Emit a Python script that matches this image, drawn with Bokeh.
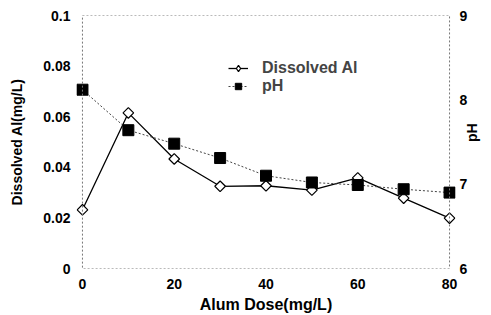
from bokeh.plotting import figure
from bokeh.models import (Range1d, LinearAxis, FixedTicker, NumeralTickFormatter,
                          BoxAnnotation, Legend, LegendItem)
from bokeh.embed import file_html
from bokeh.resources import INLINE
import numpy as np

# ---- data ----
dose = [0, 10, 20, 30, 40, 50, 60, 70, 80]
dissolved_al = [0.0232, 0.0615, 0.0433, 0.0325, 0.0327, 0.0310, 0.0358, 0.0278, 0.0199]
ph = [8.12, 7.64, 7.48, 7.31, 7.10, 7.02, 6.99, 6.94, 6.90]
x_ticks = [0, 20, 40, 60, 80]
al_ticks = [0, 0.02, 0.04, 0.06, 0.08, 0.1]
ph_ticks = [6, 7, 8, 9]

FONT = "Liberation Sans"
PAD = 1.3

p = figure(width=491, height=315, output_backend="svg", toolbar_location=None,
           x_range=Range1d(-PAD, 80 + PAD), y_range=Range1d(0, 0.1),
           min_border_left=76, min_border_right=35, min_border_top=15, min_border_bottom=46)
p.extra_y_ranges = {"ph": Range1d(6, 9)}
# off-screen range used only for the legend's diamond key
p.extra_x_ranges = {"key": Range1d(1000, 1001)}
p.grid.visible = False
p.outline_line_color = None
p.background_fill_color = "white"
p.border_fill_color = "white"

# dotted frame on the data extent
p.add_layout(BoxAnnotation(left=0, right=80, bottom=0, top=0.1, fill_alpha=0,
                           line_color="#777777", line_alpha=1.0, line_dash="2 2",
                           line_width=1))

def style_axis(ax, size="14px"):
    ax.axis_line_color = None
    ax.major_tick_line_color = None
    ax.minor_tick_line_color = None
    ax.major_tick_out = 0
    ax.major_tick_in = 0
    ax.minor_tick_out = 0
    ax.minor_tick_in = 0
    ax.major_label_text_font = FONT
    ax.major_label_text_font_style = "bold"
    ax.major_label_text_font_size = size
    ax.major_label_text_color = "black"
    ax.axis_label_text_font = FONT
    ax.axis_label_text_font_style = "bold"
    ax.axis_label_text_font_size = "14px"
    ax.axis_label_text_color = "black"

xa = p.xaxis[0]
xa.ticker = FixedTicker(ticks=x_ticks)
xa.axis_label = "Alum Dose(mg/L)"
style_axis(xa)
xa.axis_label_text_font_size = "16px"
xa.major_label_standoff = 10
xa.axis_label_standoff = 4

ya = p.yaxis[0]
ya.ticker = FixedTicker(ticks=al_ticks)
ya.formatter = NumeralTickFormatter(format="0.[00]")
ya.axis_label = "Dissolved Al(mg/L)"
style_axis(ya)
ya.major_label_standoff = 6
ya.axis_label_standoff = 15

ra = LinearAxis(y_range_name="ph", ticker=FixedTicker(ticks=ph_ticks), axis_label="pH")
style_axis(ra)
ra.major_label_standoff = 4
ra.axis_label_standoff = 2
try:
    ra.axis_label_orientation = np.pi / 2
except Exception:
    pass
p.add_layout(ra, "right")

# series
al_line = p.line(dose, dissolved_al, line_color="black", line_width=1.3)
al_pts = p.scatter(dose, dissolved_al, marker="square", angle=np.pi / 4, size=7.5,
                   fill_color="white", line_color="black", line_width=1.2)
al_key = p.scatter(dose, dissolved_al, x_range_name="key", marker="diamond", size=11,
                   fill_color="white", line_color="black", line_width=1.2)

ph_line = p.line(dose, ph, y_range_name="ph", line_color="#444444", line_width=1,
                 line_dash="2 2")
ph_pts = p.scatter(dose, ph, y_range_name="ph", marker="square", size=11,
                   fill_color="black", line_color="black")

legend = Legend(items=[LegendItem(label="Dissolved Al", renderers=[al_line, al_key]),
                       LegendItem(label="pH", renderers=[ph_line, ph_pts])],
                location=(152, 173), background_fill_alpha=0, border_line_color=None,
                padding=0, margin=0, spacing=0, glyph_width=20, glyph_height=16,
                label_height=16, label_standoff=14,
                label_text_font=FONT, label_text_font_style="bold",
                label_text_font_size="16px")
p.add_layout(legend, "center")

open("out.html", "w").write(file_html(p, INLINE))
